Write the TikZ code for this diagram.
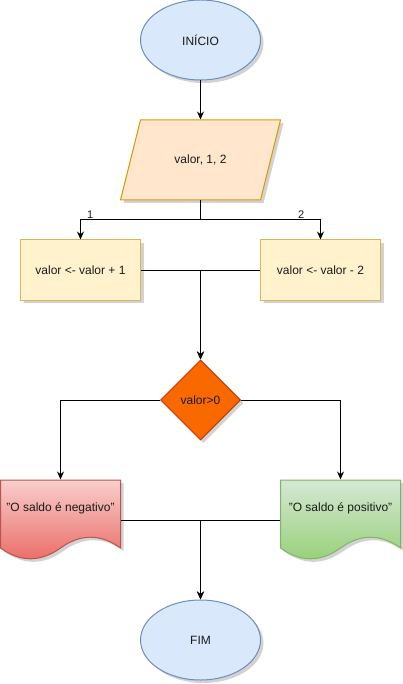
\documentclass[tikz,border=0pt]{standalone}
\usepackage{fontspec}
\setmainfont{Liberation Sans}
\usetikzlibrary{shapes.geometric,arrows.meta,shadows}
\definecolor{blueF}{HTML}{DAE8FC}\definecolor{blueD}{HTML}{6C8EBF}
\definecolor{orgF}{HTML}{FFE6CC}\definecolor{orgD}{HTML}{D79B00}
\definecolor{yelF}{HTML}{FFF2CC}\definecolor{yelD}{HTML}{D6B656}
\definecolor{diaF}{HTML}{FA6800}\definecolor{diaD}{HTML}{C73500}
\definecolor{redT}{HTML}{F8CECC}\definecolor{redB}{HTML}{EA6B66}\definecolor{redD}{HTML}{B85450}
\definecolor{grnT}{HTML}{D5E8D4}\definecolor{grnB}{HTML}{97D077}\definecolor{grnD}{HTML}{82B366}
\definecolor{txt}{HTML}{1A1A1A}
\begin{document}
\begin{tikzpicture}[x=1pt,y=-1pt,line width=1pt,
  font=\fontsize{12}{14}\selectfont, text=txt,
  shad/.style={drop shadow={shadow xshift=3pt,shadow yshift=-3pt,opacity=0.25,fill=black!70}},
  term/.style={ellipse,draw=blueD,fill=blueF,minimum width=120,minimum height=80,inner sep=0,shad},
  procbox/.style={rectangle,draw=yelD,fill=yelF,minimum width=120,minimum height=60,inner sep=0,shad},
  decis/.style={diamond,draw=diaD,fill=diaF,minimum width=80,minimum height=80,inner sep=0,shad},
  anchorbox/.style={rectangle,draw=none,fill=none,inner sep=0},
  arr/.style={-{Stealth[length=8pt,width=7pt]}},
  lbl/.style={font=\fontsize{11}{13}\selectfont,inner sep=1pt}
]
\useasboundingbox (0,0) rectangle (403,684);

% start
\node[term] (ini) at (200.5,40) {INÍCIO};

% input parallelogram
\path[draw=orgD,fill=orgF,shad] (140.5,120) -- (280.5,120) -- (260.5,200) -- (120.5,200) -- cycle;
\node[anchorbox,minimum width=140,minimum height=80] (par) at (200.5,160) {valor, 1, 2};
\coordinate (split) at (200.5,220);

% process boxes
\node[procbox] (b1) at (80.5,270) {valor <- valor + 1};
\node[procbox] (b2) at (320.5,270) {valor <- valor - 2};

% decision
\node[decis] (dia) at (200.5,400) {valor>0};

% documents
\path[draw=redD,top color=redT,bottom color=redB,shad]
  (0.5,480) -- (120.5,480) -- (120.5,548)
  .. controls (100.5,533.6) and (80.5,533.6) .. (60.5,548)
  .. controls (40.5,562.4) and (20.5,562.4) .. (0.5,548) -- cycle;
\node[anchorbox,minimum width=120,minimum height=80] (neg) at (60.5,520) {};
\node[anchorbox] (negt) at (60.5,508) {"O saldo é negativo"};

\path[draw=grnD,top color=grnT,bottom color=grnB,shad]
  (280.5,480) -- (400.5,480) -- (400.5,548)
  .. controls (380.5,533.6) and (360.5,533.6) .. (340.5,548)
  .. controls (320.5,562.4) and (300.5,562.4) .. (280.5,548) -- cycle;
\node[anchorbox,minimum width=120,minimum height=80] (pos) at (340.5,520) {};
\node[anchorbox] (post) at (340.5,508) {"O saldo é positivo"};

% end
\node[term] (fim) at (200.5,640) {FIM};

% connectors
\draw[arr] (ini.south) -- (par.north);
\draw[arr] (par.south) -- (split) -| node[lbl,pos=0.46,above] {1} (b1.north);
\draw[arr] (par.south) -- (split) -| node[lbl,pos=0.42,above] {2} (b2.north);
\draw[arr] (b1.east) -| (dia.north);
\draw[arr] (b2.west) -| (dia.north);
\draw[arr] (dia.west) -| (neg.north);
\draw[arr] (dia.east) -| (pos.north);
\draw[arr] (neg.east) -| (fim.north);
\draw[arr] (pos.west) -| (fim.north);
\end{tikzpicture}
\end{document}
